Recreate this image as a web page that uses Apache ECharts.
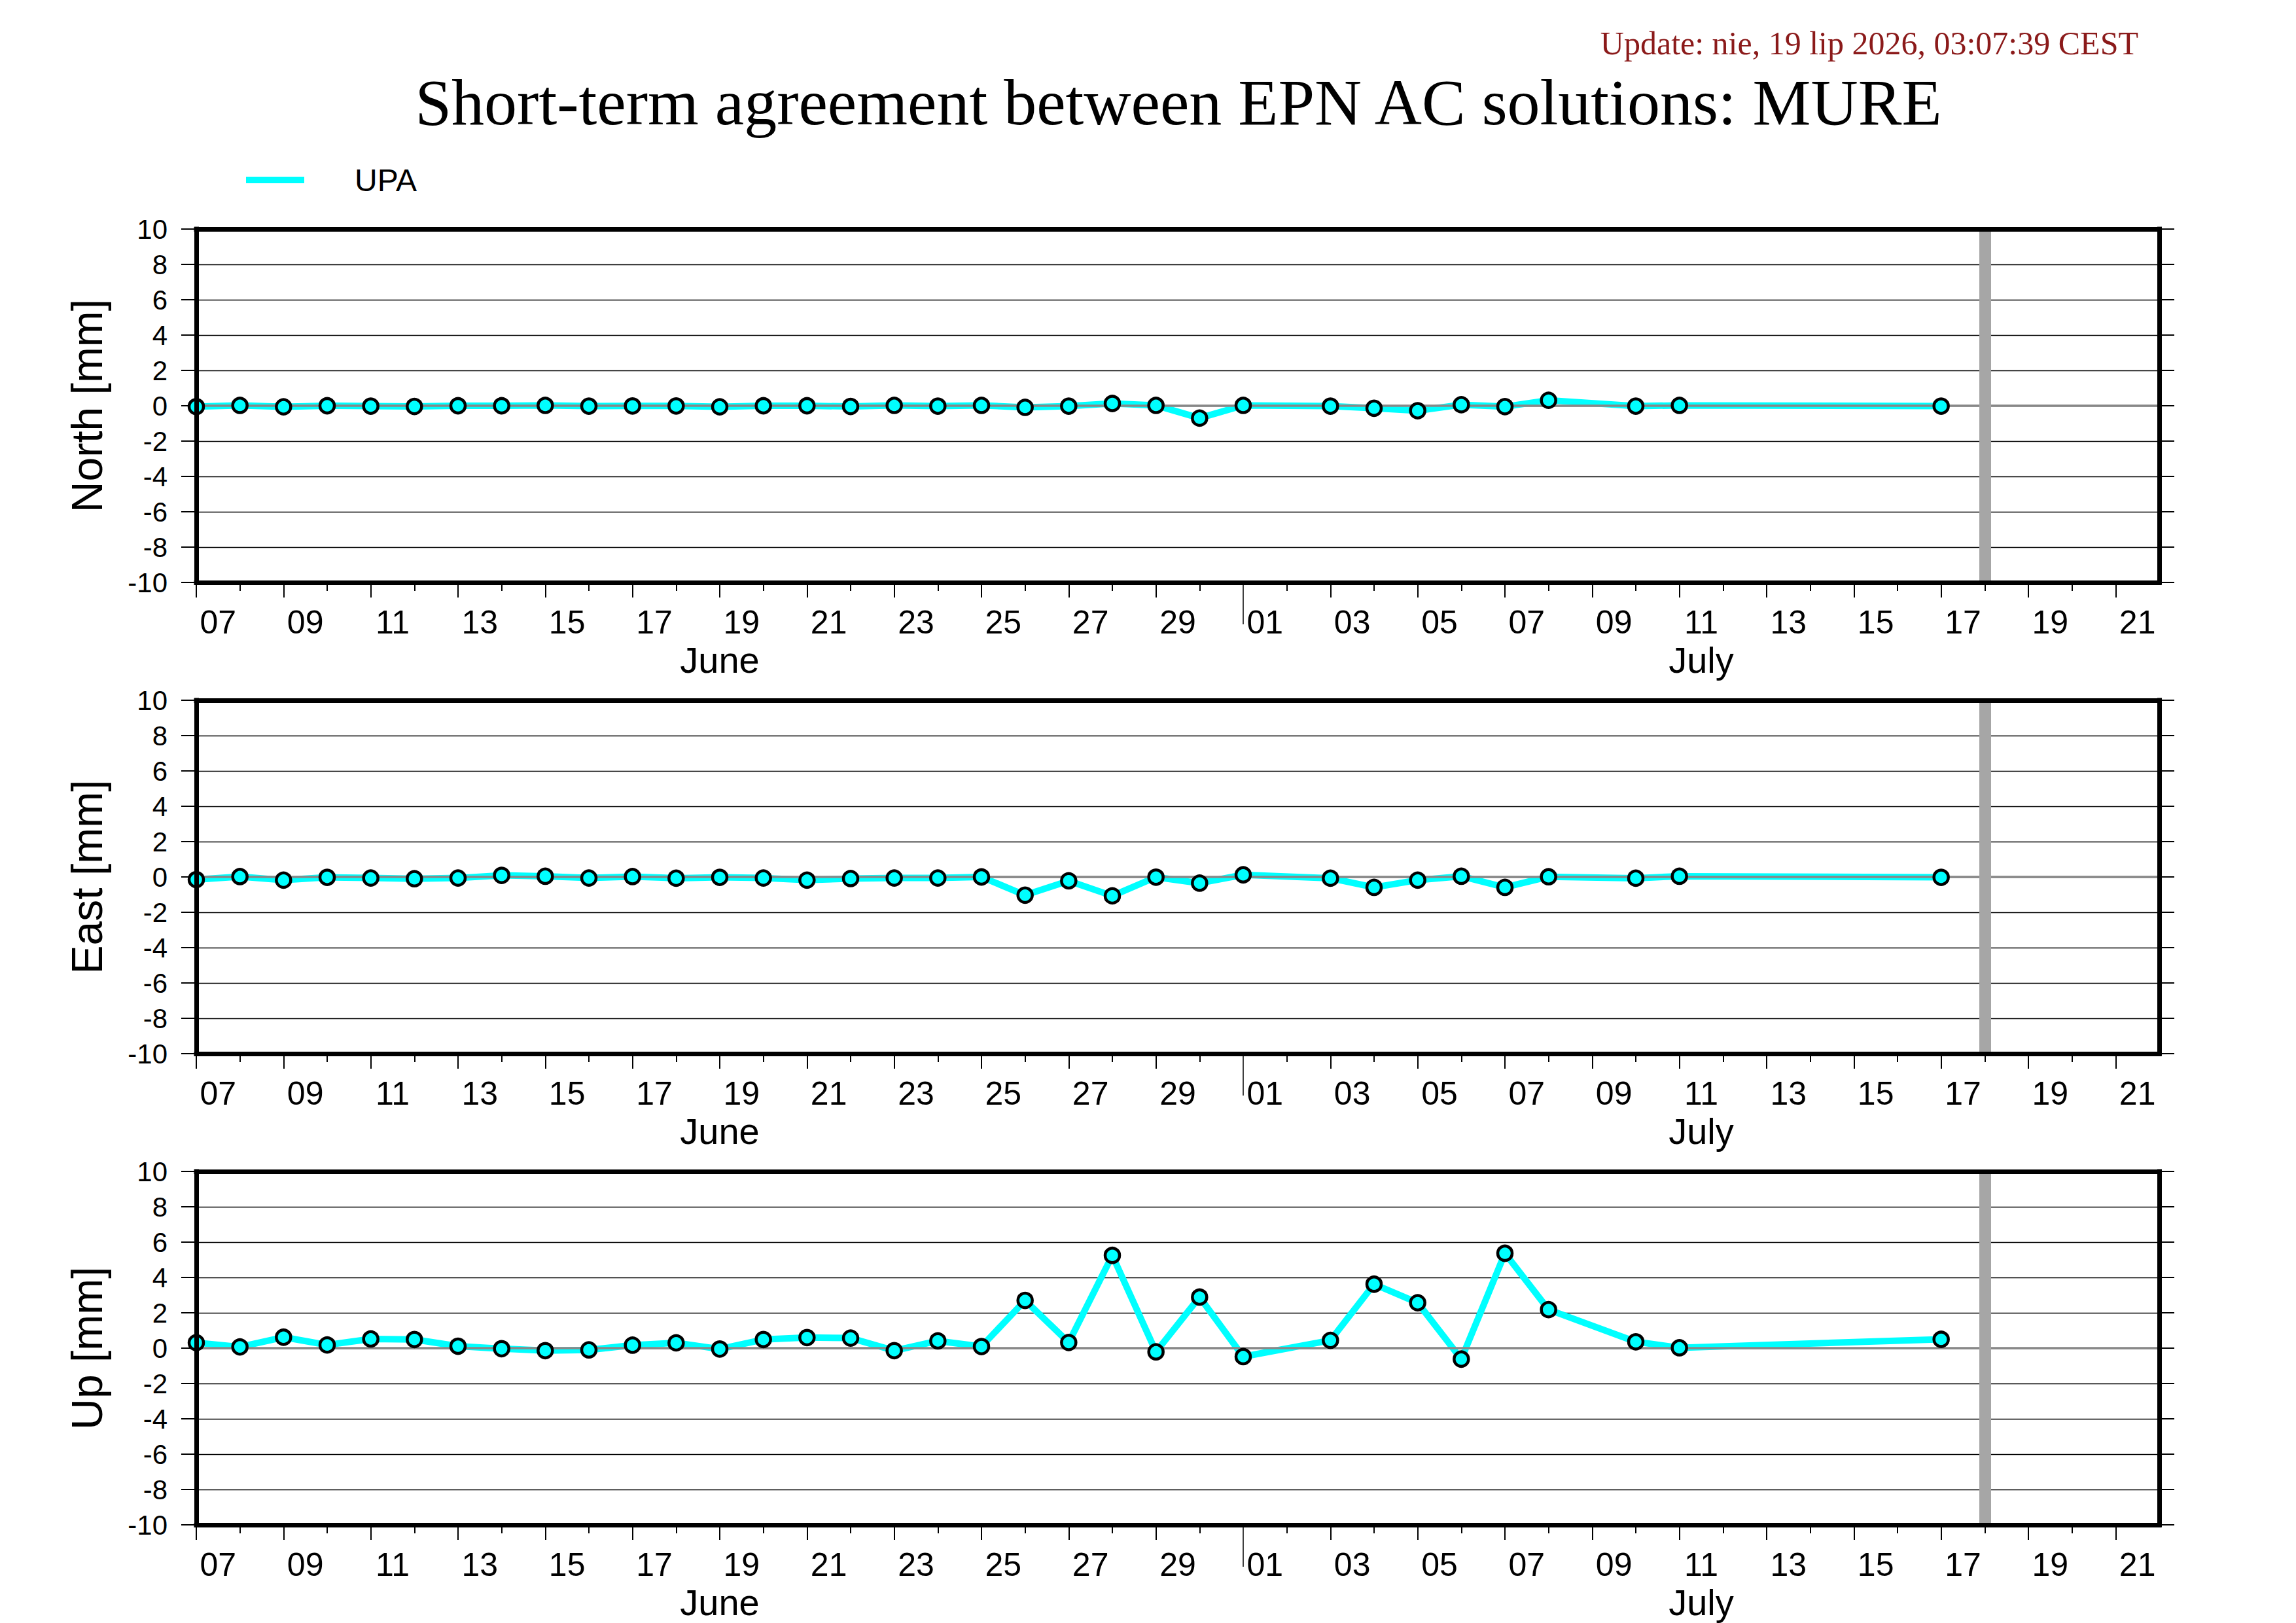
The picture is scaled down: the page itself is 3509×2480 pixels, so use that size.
<!DOCTYPE html>
<html>
<head>
<meta charset="utf-8">
<script src="https://cdn.jsdelivr.net/npm/echarts@6/dist/echarts.min.js"></script>
<style>
html,body{margin:0;padding:0;background:#fff;}
#chart{width:3509px;height:2480px;}
</style>
</head>
<body>
<div id="chart"></div>
<script>
// ---- data (days counted from 07 June, 00:00) ----
const days = [0,1,2,3,4,5,6,7,8,9,10,11,12,13,14,15,16,17,18,19,20,21,22,23,24,26,27,28,29,30,31,33,34,40];
const northValues = [-0.05,0.02,-0.06,0.00,-0.02,-0.04,0.00,0.00,0.02,-0.02,-0.01,-0.01,-0.06,0.00,0.00,-0.04,0.02,-0.02,0.02,-0.09,-0.02,0.13,0.02,-0.70,0.02,-0.02,-0.14,-0.28,0.06,-0.05,0.31,-0.02,0.02,-0.02];
const eastValues  = [-0.15,0.02,-0.18,-0.02,-0.06,-0.10,-0.06,0.09,0.04,-0.06,0.02,-0.07,-0.02,-0.06,-0.18,-0.09,-0.06,-0.06,0.00,-1.03,-0.22,-1.07,-0.01,-0.35,0.12,-0.07,-0.59,-0.18,0.04,-0.59,0.01,-0.07,0.04,-0.02];
const upValues    = [0.31,0.07,0.62,0.18,0.52,0.49,0.11,-0.03,-0.14,-0.10,0.17,0.30,-0.05,0.49,0.60,0.57,-0.14,0.41,0.09,2.70,0.32,5.25,-0.21,2.89,-0.48,0.44,3.62,2.57,-0.62,5.37,2.18,0.36,0.02,0.50];
const panelNames = ['North [mm]','East [mm]','Up [mm]'];
const panelValues = [northValues, eastValues, upValues];
const seriesName = 'UPA';
const xTickLabels = ['07','09','11','13','15','17','19','21','23','25','27','29','01','03','05','07','09','11','13','15','17','19','21'];
const monthNames = ['June','July'];
const monthLabelDays = [12, 34.5];
const monthStartDay = 24;
const markerDay = 41;
const dayRange = [0, 45];
const valueRange = [-10, 10];

// ---- layout / style ----
const SANS = '"Liberation Sans", Arial, Helvetica, sans-serif';
const SERIF = '"Liberation Serif", "Times New Roman", serif';
const gridTops = [350, 1070, 1790];
const xLabelPos = xTickLabels.map((_, i) => 0.5 + 2 * i);
const shortTicks = [], longTicks = [];
for (let d = dayRange[0] + 1; d < dayRange[1]; d++) { if (d !== monthStartDay) shortTicks.push(d); }
for (let d = dayRange[0]; d < dayRange[1]; d += 2) { if (d !== monthStartDay) longTicks.push(d); }

const border = {show:true, onZero:false, lineStyle:{color:'#000', width:7, cap:'square'}};
const noLine = {show:false, onZero:false};

const grid = [], xAxis = [], yAxis = [], series = [];
panelNames.forEach((pname, i) => {
  grid.push({left:300, top:gridTops[i], width:3000, height:540, show:false, containLabel:false});
  const xi = xAxis.length;
  // data axis: short day ticks and day labels
  xAxis.push({gridIndex:i, type:'value', min:dayRange[0], max:dayRange[1], position:'bottom',
    axisLine:noLine,
    axisTick:{show:true, customValues:shortTicks, length:13, lineStyle:{color:'#000', width:2}},
    axisLabel:{show:true, customValues:xLabelPos, formatter:(v)=>xTickLabels[Math.round((v-0.5)/2)],
      fontFamily:SANS, fontSize:50, color:'#000', margin:36},
    splitLine:{show:false}});
  // bottom border + long ticks
  xAxis.push({gridIndex:i, type:'value', min:dayRange[0], max:dayRange[1], position:'bottom', z:10,
    axisLine:border,
    axisTick:{show:true, customValues:longTicks, length:23, lineStyle:{color:'#000', width:2}},
    axisLabel:{show:false}, splitLine:{show:false}});
  // month separator + month names
  xAxis.push({gridIndex:i, type:'value', min:dayRange[0], max:dayRange[1], position:'bottom',
    axisLine:noLine,
    axisTick:{show:true, customValues:[monthStartDay], length:64, lineStyle:{color:'#000', width:1.5}},
    axisLabel:{show:true, customValues:monthLabelDays, formatter:(v)=>monthNames[monthLabelDays.indexOf(v)],
      fontFamily:SANS, fontSize:56, color:'#000', margin:90},
    splitLine:{show:false}});
  // top border
  xAxis.push({gridIndex:i, type:'value', min:dayRange[0], max:dayRange[1], position:'top', z:10,
    axisLine:border, axisTick:{show:false}, axisLabel:{show:false}, splitLine:{show:false}});

  const yi = yAxis.length;
  yAxis.push({gridIndex:i, type:'value', min:valueRange[0], max:valueRange[1], interval:2, position:'left',
    name:pname, nameLocation:'middle', nameGap:134,
    nameTextStyle:{fontFamily:SANS, fontSize:66, color:'#000'},
    axisLine:noLine,
    axisTick:{show:true, length:23, lineStyle:{color:'#000', width:2}},
    axisLabel:{fontFamily:SANS, fontSize:42, color:'#000', margin:44},
    splitLine:{show:true, lineStyle:{color:'#000', width:1.3}}});
  yAxis.push({gridIndex:i, type:'value', min:valueRange[0], max:valueRange[1], interval:2, position:'left', z:10,
    axisLine:border, axisTick:{show:false}, axisLabel:{show:false}, splitLine:{show:false}});
  yAxis.push({gridIndex:i, type:'value', min:valueRange[0], max:valueRange[1], interval:2, position:'right', z:10,
    axisLine:border, axisTick:{show:true, length:23, lineStyle:{color:'#000', width:2}},
    axisLabel:{show:false}, splitLine:{show:false}});

  const data = days.map((d, k) => [d, panelValues[i][k]]);
  series.push({type:'line', name:seriesName, xAxisIndex:xi, yAxisIndex:yi, data:data,
    showSymbol:false, symbol:'none', z:2, clip:true,
    lineStyle:{color:'#00ffff', width:10}, itemStyle:{color:'#00ffff'},
    markLine:{silent:true, symbol:['none','none'], label:{show:false}, z:5, animation:false,
      data:[
        {yAxis:0, lineStyle:{color:'#888888', width:3.5, type:'solid'}},
        {xAxis:markerDay, lineStyle:{color:'#a6a6a6', width:18, type:'solid'}}
      ]}});
  series.push({type:'scatter', name:seriesName, xAxisIndex:xi, yAxisIndex:yi, data:data,
    symbol:'circle', symbolSize:22, z:6, clip:false,
    itemStyle:{color:'#00ffff', borderColor:'#000', borderWidth:4.5, opacity:1}});
});

const option = {
  backgroundColor:'#ffffff',
  animation:false,
  grid, xAxis, yAxis, series,
  legend:{data:[seriesName], left:371, top:246, icon:'rect', itemWidth:89, itemHeight:10, selectedMode:false,
    textStyle:{fontFamily:SANS, fontSize:48, color:'#000', padding:[0,0,0,72]}},
  graphic:[
    {type:'text', x:1801, y:156, style:{legacy:false, text:'Short-term agreement between EPN AC solutions: MURE',
      font:'100px ' + SERIF, fill:'#000', align:'center', verticalAlign:'middle'}},
    {type:'text', x:3268, y:66, style:{legacy:false, text:'Update: nie, 19 lip 2026, 03:07:39 CEST',
      font:'50px ' + SERIF, fill:'#8b1a1a', align:'right', verticalAlign:'middle'}}
  ]
};
const chart = echarts.init(document.getElementById('chart'), null, {renderer:'svg', width:3509, height:2480});
chart.setOption(option);
</script>
</body>
</html>
